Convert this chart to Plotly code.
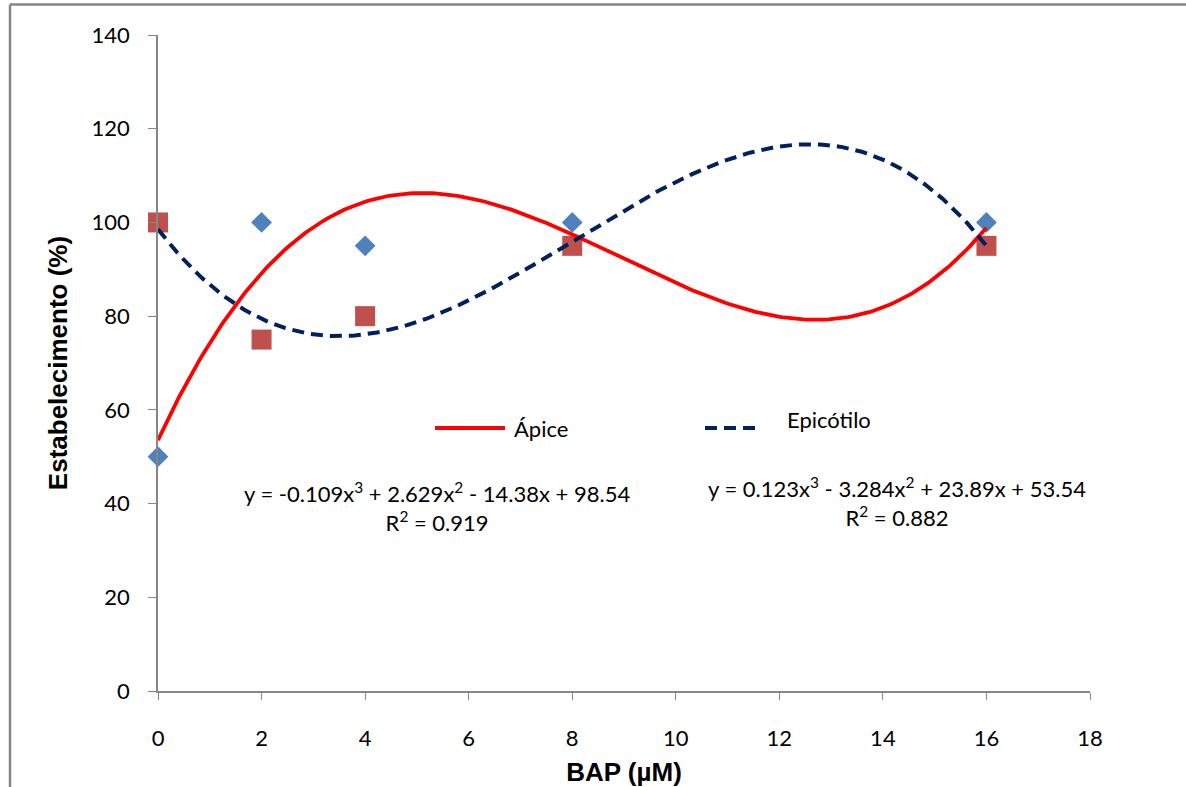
import numpy as np
import plotly.graph_objects as go

# ---- data ----
bap = [0, 2, 4, 8, 16]
squares_y = [100, 75, 80, 95, 95]      # red squares
diamonds_y = [50, 100, 95, 100, 100]   # blue diamonds

# trendline coefficients (highest power first), as printed on the chart
apice_coef = [0.123, -3.284, 23.89, 53.54]        # red solid line
epicotilo_coef = [-0.109, 2.629, -14.38, 98.54]   # navy dashed line
apice_eq = "y = 0.123x<sup>3</sup> - 3.284x<sup>2</sup> + 23.89x + 53.54<br>R<sup>2</sup> = 0.882"
epicotilo_eq = "y = -0.109x<sup>3</sup> + 2.629x<sup>2</sup> - 14.38x + 98.54<br>R<sup>2</sup> = 0.919"

x_ticks = [0, 2, 4, 6, 8, 10, 12, 14, 16, 18]
y_ticks = [0, 20, 40, 60, 80, 100, 120, 140]

xs = np.linspace(min(bap), max(bap), 300)

W, H = 1186, 787
L, R, T, B = 158, 96, 35, 96
pw, ph = W - L - R, H - T - B

def px(x):
    return (x - L) / pw

def py(y):
    return (H - B - y) / ph

fig = go.Figure()
fig.add_trace(go.Scatter(x=bap, y=squares_y, mode="markers", showlegend=False, cliponaxis=False,
                         marker=dict(symbol="square", size=20, color="#C0504D")))
fig.add_trace(go.Scatter(x=bap, y=diamonds_y, mode="markers", showlegend=False, cliponaxis=False,
                         marker=dict(symbol="diamond", size=16, color="#4F81BD")))
fig.add_trace(go.Scatter(x=xs, y=np.polyval(apice_coef, xs), mode="lines", name="Ápice",
                         showlegend=False, cliponaxis=False, line=dict(color="#FF0000", width=3.8)))
fig.add_trace(go.Scatter(x=xs, y=np.polyval(epicotilo_coef, xs), mode="lines", name="Epicótilo",
                         showlegend=False, cliponaxis=False,
                         line=dict(color="#002060", width=4, dash="12px,7px")))

txt = dict(family="Lato, Carlito, sans-serif", size=22, color="#000000")
title_font = dict(family="Liberation Sans, Arial", size=26, color="#000000")

# manual legend
fig.add_shape(type="line", xref="paper", yref="paper", x0=px(435), x1=px(505), y0=py(428), y1=py(428),
              line=dict(color="#FF0000", width=4))
fig.add_shape(type="line", xref="paper", yref="paper", x0=px(705), x1=px(762), y0=py(428), y1=py(428),
              line=dict(color="#002060", width=4, dash="12px,7px"))
fig.add_annotation(xref="paper", yref="paper", x=px(512), y=py(428), text="Ápice", showarrow=False,
                   xanchor="left", yanchor="middle", font=txt)
fig.add_annotation(xref="paper", yref="paper", x=px(785), y=py(419), text="Epicótilo", showarrow=False,
                   xanchor="left", yanchor="middle", font=txt)

# equations
fig.add_annotation(xref="paper", yref="paper", x=px(437), y=py(507), text=epicotilo_eq, showarrow=False,
                   xanchor="center", yanchor="middle", align="center", font=txt)
fig.add_annotation(xref="paper", yref="paper", x=px(897), y=py(502), text=apice_eq, showarrow=False,
                   xanchor="center", yanchor="middle", align="center", font=txt)

# outer chart frame (left and top edges visible)
fig.add_shape(type="line", xref="paper", yref="paper", x0=px(10), x1=px(10), y0=py(4.5), y1=py(H),
              line=dict(color="#868686", width=2.5))
fig.add_shape(type="line", xref="paper", yref="paper", x0=px(10), x1=px(W), y0=py(4.5), y1=py(4.5),
              line=dict(color="#868686", width=2.5))

fig.update_layout(
    width=W, height=H,
    margin=dict(l=L, r=R, t=T, b=B, autoexpand=False),
    paper_bgcolor="white", plot_bgcolor="white",
    showlegend=False,
)
fig.update_xaxes(
    range=[0, 18], tickvals=x_ticks, ticks="outside", ticklen=7, tickcolor="#868686",
    showline=True, linecolor="#868686", linewidth=2, showgrid=False, zeroline=False,
    tickfont=txt, ticklabelstandoff=20,
    title=dict(text="<b>BAP (µM)</b>", font=title_font, standoff=12),
)
fig.update_yaxes(
    range=[0, 140], tickvals=y_ticks, ticks="outside", ticklen=8, tickcolor="#868686",
    showline=True, linecolor="#868686", linewidth=1.5, showgrid=False, zeroline=False,
    tickfont=txt, ticklabelstandoff=14,
    title=dict(text="<b>Estabelecimento (%)</b>", font=title_font, standoff=16),
)

fig.write_html("out.html", config={"displayModeBar": False},
               post_script="document.body.style.margin='0px';document.body.style.overflow='hidden';")
